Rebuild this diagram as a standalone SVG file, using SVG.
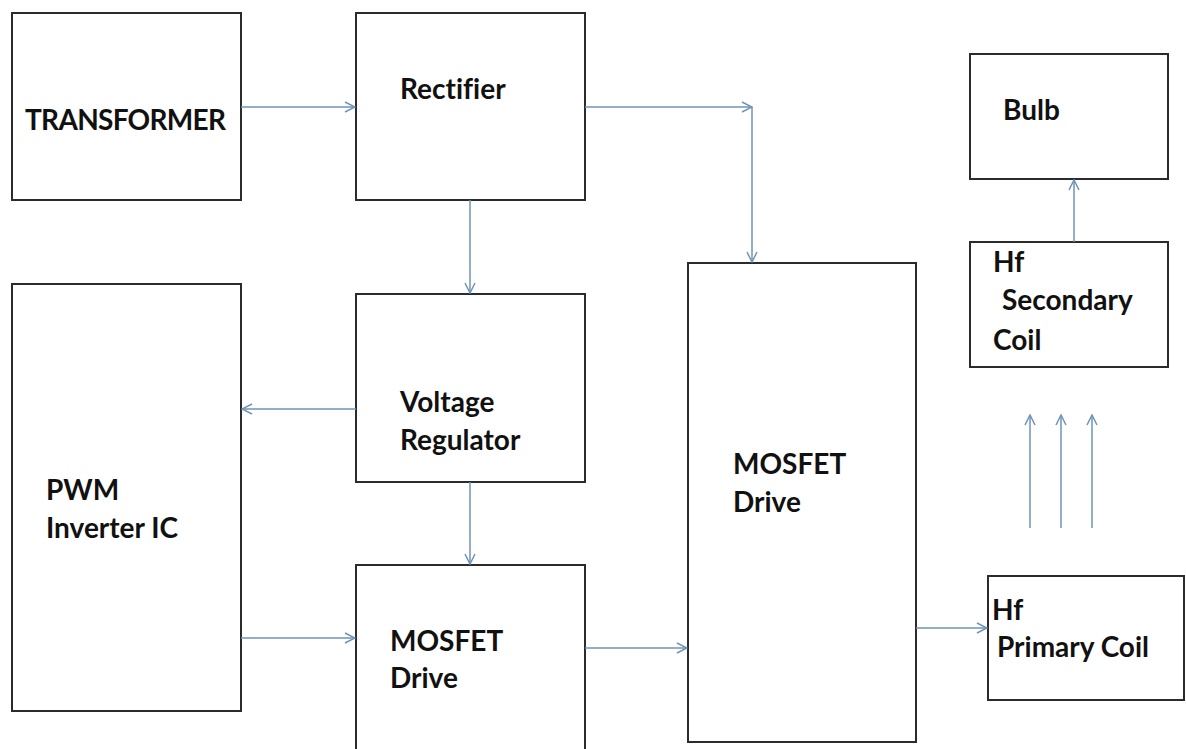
<svg xmlns="http://www.w3.org/2000/svg" width="1186" height="749" viewBox="0 0 1186 749">
<style>
.box{fill:#fff;stroke:#2b2b2b;stroke-width:2}
.lbl{font-family:Lato,"Open Sans",sans-serif;font-weight:bold;font-size:28px;fill:#111;font-variant-ligatures:none}
.con{fill:none;stroke:#6f93b6;stroke-width:1.5}
</style>
<defs>
<marker id="ah" viewBox="0 0 12 12" refX="11" refY="6" markerWidth="12" markerHeight="12" markerUnits="userSpaceOnUse" orient="auto">
<path d="M1,1 L11,6 L1,11" fill="none" stroke="#6f93b6" stroke-width="1.5"/>
</marker>
</defs>
<rect width="1186" height="749" fill="#fff"/>
<g id="transformer"><rect class="box" x="12" y="13" width="229" height="187"/><text class="lbl" x="25" y="130" textLength="201">TRANSFORMER</text></g>
<g id="rectifier"><rect class="box" x="356" y="13" width="229" height="187"/><text class="lbl" x="400" y="99">Rectifier</text></g>
<g id="voltage-regulator"><rect class="box" x="356" y="294" width="229" height="188"/><text class="lbl" x="400" y="412">Voltage</text><text class="lbl" x="400" y="450">Regulator</text></g>
<g id="mosfet-drive-1"><rect class="box" x="356" y="565" width="229" height="190"/><text class="lbl" x="390" y="651">MOSFET</text><text class="lbl" x="390" y="688">Drive</text></g>
<g id="pwm"><rect class="box" x="12" y="284" width="229" height="427"/><text class="lbl" x="46" y="500">PWM</text><text class="lbl" x="46" y="538">Inverter IC</text></g>
<g id="mosfet-drive-2"><rect class="box" x="688" y="263" width="228" height="479"/><text class="lbl" x="733" y="474">MOSFET</text><text class="lbl" x="733" y="512">Drive</text></g>
<g id="primary-coil"><rect class="box" x="988" y="576" width="196" height="124"/><text class="lbl" x="992" y="620">Hf</text><text class="lbl" x="997" y="657">Primary Coil</text></g>
<g id="secondary-coil"><rect class="box" x="970" y="242" width="198" height="125"/><text class="lbl" x="993" y="272">Hf</text><text class="lbl" x="1002" y="310">Secondary</text><text class="lbl" x="993" y="350">Coil</text></g>
<g id="bulb"><rect class="box" x="970" y="54" width="198" height="125"/><text class="lbl" x="1003" y="120">Bulb</text></g>
<g id="connectors">
<path class="con" d="M241,107 H355" marker-end="url(#ah)"/>
<path class="con" d="M585,107 H752" marker-end="url(#ah)"/>
<path class="con" d="M752,107 V262" marker-end="url(#ah)"/>
<path class="con" d="M470,200 V293" marker-end="url(#ah)"/>
<path class="con" d="M356,409 H242" marker-end="url(#ah)"/>
<path class="con" d="M470,482 V564" marker-end="url(#ah)"/>
<path class="con" d="M241,638 H355" marker-end="url(#ah)"/>
<path class="con" d="M585,648 H687" marker-end="url(#ah)"/>
<path class="con" d="M916,628 H987" marker-end="url(#ah)"/>
<path class="con" d="M1074,242 V180" marker-end="url(#ah)"/>
<path class="con" d="M1030,528 V415" marker-end="url(#ah)"/>
<path class="con" d="M1061,528 V415" marker-end="url(#ah)"/>
<path class="con" d="M1092,528 V415" marker-end="url(#ah)"/>
</g>
</svg>
